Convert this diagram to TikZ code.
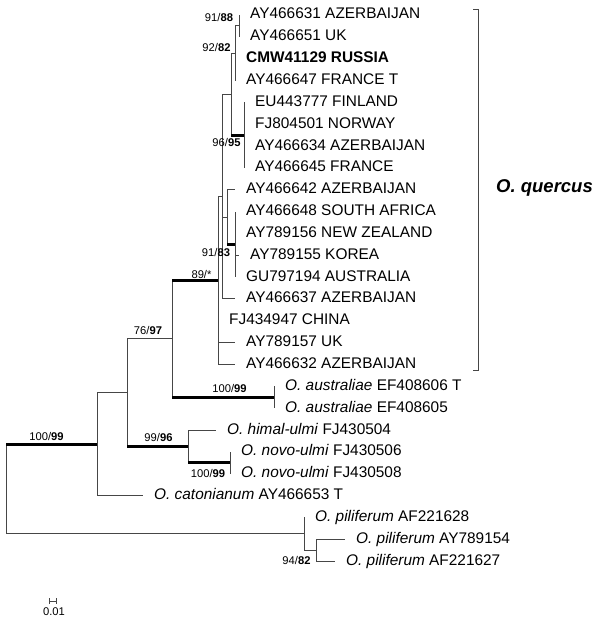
\documentclass[tikz,border=0pt]{standalone}
\usepackage{fontspec}
\setmainfont{Liberation Sans}
\usetikzlibrary{arrows.meta,calc}
\definecolor{brCol}{RGB}{70,70,70}
\tikzset{
  br/.style={draw=brCol,line width=0.85pt},
  strong/.style={draw=black,line width=3.2pt},
  leaf/.style={anchor=base west,inner sep=0pt,font=\fontsize{15.4}{18}\selectfont,
               xshift=11pt,yshift=-4pt},
  sup/.style={anchor=base,inner sep=0pt,font=\fontsize{11.2}{13}\selectfont},
  clade/.style={anchor=west,inner sep=0pt,font=\fontsize{18.5}{22}\selectfont\bfseries\itshape},
}
\newcommand{\sname}[1]{\textit{#1}}

\begin{document}
\begin{tikzpicture}[x=1pt,y=-1pt]
    \useasboundingbox (0,0) rectangle (600,621);
    % leaf tips
    \coordinate (t0) at (239,15.0);   \coordinate (t1) at (239,36.8);
    \coordinate (t2) at (235,58.7);   \coordinate (t3) at (235,80.5);
    \coordinate (t4) at (244,102.4);  \coordinate (t5) at (244,124.2);
    \coordinate (t6) at (244,146.0);  \coordinate (t7) at (244,167.9);
    \coordinate (t8) at (235,189.7);  \coordinate (t9) at (235,211.6);
    \coordinate (t10) at (235,233.4); \coordinate (t11) at (239,255.2);
    \coordinate (t12) at (235,277.1); \coordinate (t13) at (235,298.9);
    \coordinate (t14) at (218,320.8); \coordinate (t15) at (235,342.6);
    \coordinate (t16) at (235,364.4); \coordinate (t17) at (274,386.3);
    \coordinate (t18) at (274,408.1); \coordinate (t19) at (216,430.0);
    \coordinate (t20) at (230,451.8); \coordinate (t21) at (230,473.6);
    \coordinate (t22) at (143,495.5); \coordinate (t23) at (304,517.3);
    \coordinate (t24) at (345,539.2); \coordinate (t25) at (335,561.0);
    % inner nodes
    \coordinate (n12) at (239,25.9);  \coordinate (nR) at (235,53.2);
    \coordinate (nS) at (244,135.2);  \coordinate (nP) at (231,94.2);
    \coordinate (nV) at (235,244.4);  \coordinate (nU) at (227,217.0);
    \coordinate (nQ) at (222,196.6);  \coordinate (nT) at (218,280.5);
    \coordinate (nAu) at (274,397.2); \coordinate (nC) at (172,338.9);
    \coordinate (nE) at (230,462.7);  \coordinate (nD) at (188,446.4);
    \coordinate (nB) at (127,392.6);  \coordinate (nA) at (97,444.1);
    \coordinate (nX) at (316,550.1);  \coordinate (nW) at (304,533.7);
    \coordinate (root) at (6,488.9);

    % O. quercus clade
    \draw[br] (n12) |- (t0); \draw[br] (n12) |- (t1);
    \draw[br] (nR) |- (n12); \draw[br] (nR) |- (t2); \draw[br] (nR) |- (t3);
    \draw[br] (nS) |- (t4); \draw[br] (nS) |- (t5);
    \draw[br] (nS) |- (t6); \draw[br] (nS) |- (t7);
    \draw[br] (nP) |- (nR);
    \draw[br] (nP) |- (nS); \draw[strong] (nP |- nS) -- (nS);
    \draw[br] (nV) |- (t9); \draw[br] (nV) |- (t10);
    \draw[br] (nV) |- (t11); \draw[br] (nV) |- (t12);
    \draw[br] (nU) |- (t8);
    \draw[br] (nU) |- (nV); \draw[strong] (nU |- nV) -- (nV);
    \draw[br] (nQ) |- (nP); \draw[br] (nQ) |- (nU); \draw[br] (nQ) |- (t13);
    \draw[br] (nT) |- (nQ); \draw[br] (nT) |- (t14);
    \draw[br] (nT) |- (t15); \draw[br] (nT) |- (t16);
    % rest of the tree
    \draw[br] (nAu) |- (t17); \draw[br] (nAu) |- (t18);
    \draw[br] (nC) |- (nT); \draw[strong] (nC |- nT) -- (nT);
    \draw[br] (nC) |- (nAu); \draw[strong] (nC |- nAu) -- (nAu);
    \draw[br] (nE) |- (t20); \draw[br] (nE) |- (t21);
    \draw[br] (nD) |- (t19);
    \draw[br] (nD) |- (nE); \draw[strong] (nD |- nE) -- (nE);
    \draw[br] (nB) |- (nC);
    \draw[br] (nB) |- (nD); \draw[strong] (nB |- nD) -- (nD);
    \draw[br] (nA) |- (nB); \draw[br] (nA) |- (t22);
    \draw[br] (nX) |- (t24); \draw[br] (nX) |- (t25);
    \draw[br] (nW) |- (t23); \draw[br] (nW) |- (nX);
    \draw[br] (root) |- (nW);
    \draw[br] (root) |- (nA); \draw[strong] (root |- nA) -- (nA);

    % taxa
    \node[leaf] (l0) at (t0) {AY466631 AZERBAIJAN};
    \node[leaf] (l1) at (t1) {AY466651 UK};
    \node[leaf] (l2) at (t2) {\textbf{CMW41129 RUSSIA}};
    \node[leaf] (l3) at (t3) {AY466647 FRANCE T};
    \node[leaf] (l4) at (t4) {EU443777 FINLAND};
    \node[leaf] (l5) at (t5) {FJ804501 NORWAY};
    \node[leaf] (l6) at (t6) {AY466634 AZERBAIJAN};
    \node[leaf] (l7) at (t7) {AY466645 FRANCE};
    \node[leaf] (l8) at (t8) {AY466642 AZERBAIJAN};
    \node[leaf] (l9) at (t9) {AY466648 SOUTH AFRICA};
    \node[leaf] (l10) at (t10) {AY789156 NEW ZEALAND};
    \node[leaf] (l11) at (t11) {AY789155 KOREA};
    \node[leaf] (l12) at (t12) {GU797194 AUSTRALIA};
    \node[leaf] (l13) at (t13) {AY466637 AZERBAIJAN};
    \node[leaf] (l14) at (t14) {FJ434947 CHINA};
    \node[leaf] (l15) at (t15) {AY789157 UK};
    \node[leaf] (l16) at (t16) {AY466632 AZERBAIJAN};
    \node[leaf] (l17) at (t17) {\sname{O. australiae} EF408606 T};
    \node[leaf] (l18) at (t18) {\sname{O. australiae} EF408605};
    \node[leaf] (l19) at (t19) {\sname{O. himal-ulmi} FJ430504};
    \node[leaf] (l20) at (t20) {\sname{O. novo-ulmi} FJ430506};
    \node[leaf] (l21) at (t21) {\sname{O. novo-ulmi} FJ430508};
    \node[leaf] (l22) at (t22) {\sname{O. catonianum} AY466653 T};
    \node[leaf] (l23) at (t23) {\sname{O. piliferum} AF221628};
    \node[leaf] (l24) at (t24) {\sname{O. piliferum} AY789154};
    \node[leaf] (l25) at (t25) {\sname{O. piliferum} AF221627};

    % bootstrap values
    \node[sup] (s1) at (219,21) {91/\textbf{88}};
    \node[sup] (s2) at (216.5,51) {92/\textbf{82}};
    \node[sup] (s3) at (226.5,146) {96/\textbf{95}};
    \node[sup] (s4) at (216,256) {91/\textbf{83}};
    \node[sup] (s5) at (201.5,278) {89/*};
    \node[sup] (s6) at (148,334) {76/\textbf{97}};
    \node[sup] (s7) at (229.5,392) {100/\textbf{99}};
    \node[sup] (s8) at (158.5,441) {99/\textbf{96}};
    \node[sup] (s9) at (46.5,440.5) {100/\textbf{99}};
    \node[sup] (s10) at (208,477) {100/\textbf{99}};
    \node[sup] (s11) at (296.5,564) {94/\textbf{82}};

    % clade bracket
    \coordinate (qa) at (473,9);  \coordinate (qb) at (478,9);
    \coordinate (qc) at (478,370); \coordinate (qd) at (473,370);
    \draw[br] (qa) -- (qb) -- (qc) -- (qd);
    \node[clade] (quercus) at (496,188) {O. quercus};

    % scale
    \coordinate (sb1) at (49,601); \coordinate (sb2) at (57,601);
    \draw[br,{Bar[width=6pt]}-{Bar[width=6pt]}] (sb1) -- (sb2);
    \node[sup] (sbl) at (54,615) {0.01};
\end{tikzpicture}
\end{document}
